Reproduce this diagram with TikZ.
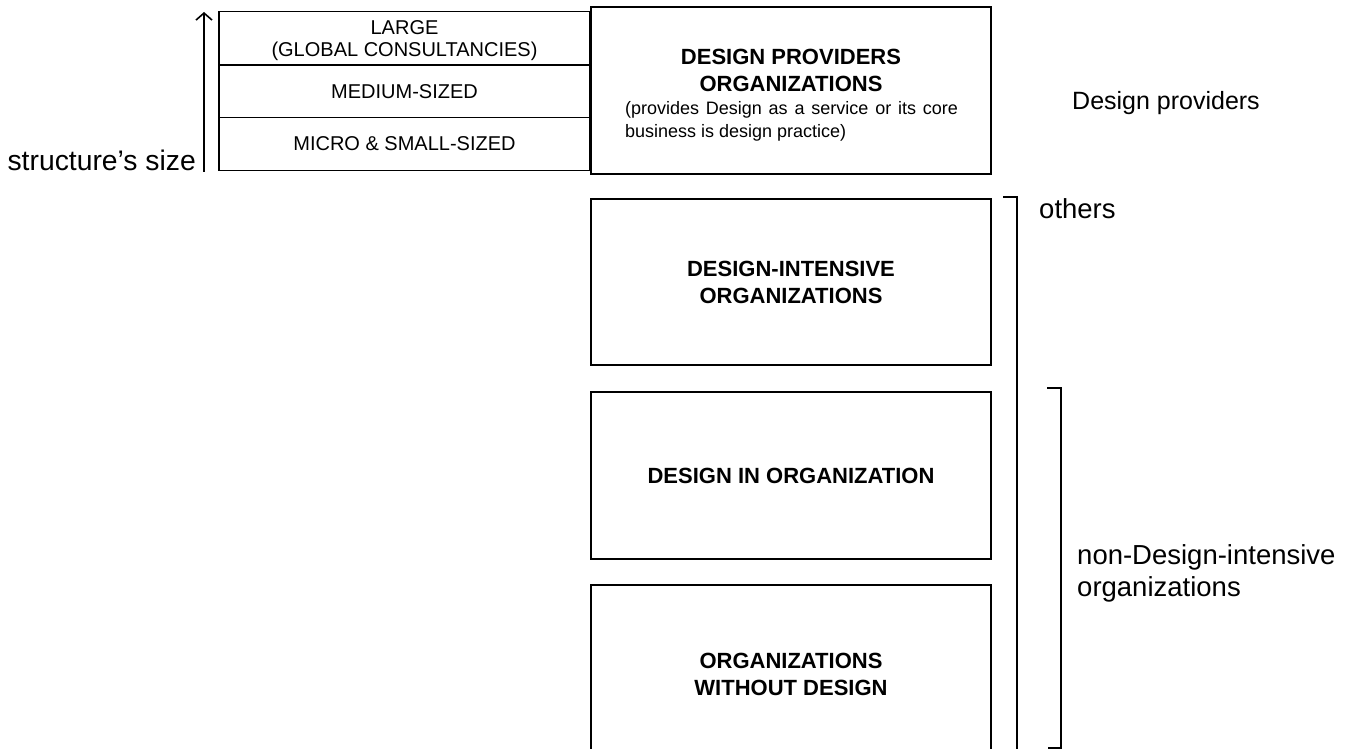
\documentclass[tikz,border=0pt]{standalone}
\usepackage{fontspec}
\setmainfont{Liberation Sans}
\usetikzlibrary{arrows.meta}
\begin{document}
\begin{tikzpicture}[x=1pt,y=-1pt,
  box/.style={draw,line width=1.6pt,inner sep=0pt,minimum width=400pt},
  row/.style={draw,line width=1.6pt,inner sep=0pt,minimum width=371pt,align=center,font=\fontsize{20}{21}\selectfont},
  rowtxt/.style={inner sep=0pt,align=center,font=\fontsize{20}{21.5}\selectfont},
  ttl/.style={inner sep=0pt,align=center,font=\fontsize{22}{27}\selectfont\bfseries},
  big/.style={inner sep=0pt,align=left,font=\fontsize{27.5}{32}\selectfont},
  brk/.style={line width=1.6pt}]
\useasboundingbox (0,0) rectangle (1355,749);
% left stack
\node[row,minimum height=53.5pt] (large) at (404.5,38.3) {};
\node[rowtxt] (largetxt) at (404.5,40.8) {LARGE\\(GLOBAL CONSULTANCIES)};
\node[row,minimum height=52.5pt] (medium) at (404.5,91.3) {MEDIUM-SIZED};
\node[row,minimum height=53pt] (small) at (404.5,144.2) {\raisebox{2pt}{MICRO \& SMALL-SIZED}};
% arrow
\coordinate (abot) at (204,172);
\coordinate (atop) at (204,12);
\draw[line width=1.6pt,-{Straight Barb[length=7pt,width=16pt,line width=1.6pt]}] (abot) -- (atop);
\node[inner sep=0pt,font=\fontsize{28.3}{32}\selectfont,anchor=base east] (ss) at (196,171) {structure’s size};
% boxes
\node[box,minimum height=167pt] (dp) at (791,90.5) {};
\node[ttl] (dpt) at (791,70) {DESIGN PROVIDERS\\ORGANIZATIONS};
\node[inner sep=0pt,text width=333pt,align=justify,font=\fontsize{18}{23}\selectfont] (dpd) at (791.5,121) {\hyphenpenalty=10000 (provides Design as a service or its core business is design practice)};
\node[box,minimum height=166pt,ttl] (di) at (791,282) {DESIGN-INTENSIVE\\ORGANIZATIONS};
\node[box,minimum height=167pt,ttl] (dio) at (791,475.5) {DESIGN IN ORGANIZATION};
\node[box,minimum height=178pt,ttl] (owd) at (791,674) {ORGANIZATIONS\\WITHOUT DESIGN};
% brackets
\coordinate (b1a) at (1003,197);
\coordinate (b1b) at (1017,197);
\coordinate (b1c) at (1017,752);
\draw[brk] (b1a) -- (b1b) -- (b1c);
\coordinate (b2a) at (1047,388);
\coordinate (b2b) at (1061,388);
\coordinate (b2c) at (1061,748);
\coordinate (b2d) at (1048,748);
\draw[brk] (b2a) -- (b2b) -- (b2c) -- (b2d);
% labels
\node[inner sep=0pt,font=\fontsize{25}{30}\selectfont,anchor=west] (dpl) at (1072,103) {Design providers};
\node[big,anchor=west] (oth) at (1039,209) {others};
\node[big,anchor=west] (ndi) at (1077,573) {non-Design-intensive\\organizations};
\end{tikzpicture}
\end{document}
